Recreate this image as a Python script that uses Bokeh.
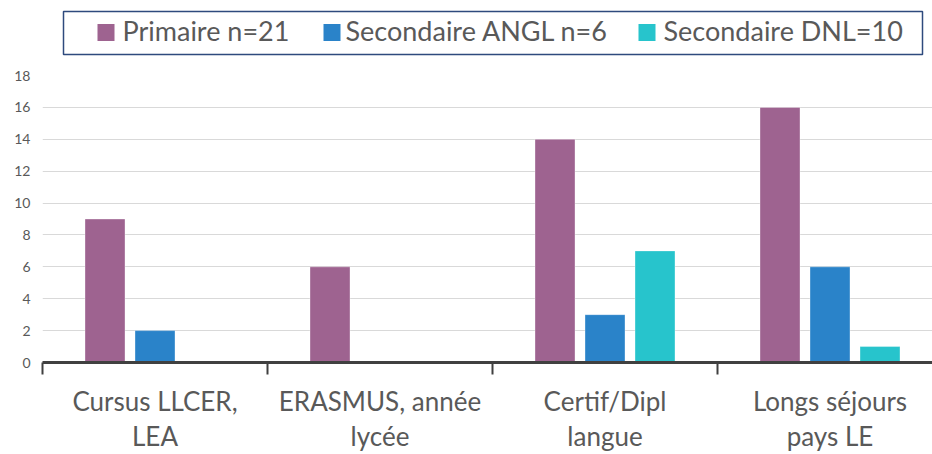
from bokeh.plotting import figure
from bokeh.models import ColumnDataSource, FixedTicker, Range1d
from bokeh.layouts import column
from bokeh.core.properties import value
from bokeh.embed import file_html
from bokeh.resources import INLINE

categories = ["Cursus LLCER,\nLEA", "ERASMUS, année\nlycée", "Certif/Dipl\nlangue", "Longs séjours\npays LE"]
series_names = ["Primaire n=21", "Secondaire ANGL n=6", "Secondaire DNL=10"]
primaire = [9, 6, 14, 16]
sec_angl = [2, 0, 3, 6]
sec_dnl = [0, 0, 7, 1]
colors = ["#9E6390", "#2A83C9", "#27C4CC"]
y_ticks = [0, 2, 4, 6, 8, 10, 12, 14, 16, 18]

FONT = "Lato"
TEXT_COLOR = "#595959"

W = 932
LEG_H = 65
LEFT = 42

# ---------------- legend strip (pixel-unit ranges, layout only) ----------------
leg_fig = figure(width=W, height=LEG_H, output_backend="svg", toolbar_location=None,
                 x_range=Range1d(LEFT, W), y_range=Range1d(LEG_H, 0),
                 min_border_left=LEFT, min_border_right=0, min_border_top=0, min_border_bottom=0,
                 x_axis_location=None, y_axis_location=None)
leg_fig.outline_line_color = None
leg_fig.grid.visible = False

box = dict(left=[63], right=[922], top=[11], bottom=[54])
square_x = [105.5, 331.5, 646.5]
text_x = [122, 345, 663]
item_y = 32
baseline_y = 30

leg_fig.quad(source=ColumnDataSource(box), left="left", right="right", top="top", bottom="bottom",
             fill_color=None, line_color="#2E4A7D", line_width=1.5)
leg_fig.rect(x=square_x, y=[item_y] * 3, width=17, height=17, width_units="screen",
             height_units="screen", fill_color=colors, line_color=None)
leg_fig.text(x=text_x, y=[baseline_y] * 3, text=series_names,
             text_font=value(FONT), text_font_size="27px", text_color=TEXT_COLOR,
             text_baseline="alphabetic", text_align="left")

# ---------------- main chart ----------------
p = figure(width=W, height=454 - LEG_H, output_backend="svg", toolbar_location=None,
           x_range=(0, (W - LEFT) / 225), y_range=(0, 18),
           min_border_left=LEFT, min_border_right=0, min_border_top=10, min_border_bottom=0)
p.outline_line_color = None
p.background_fill_color = "white"

centers = [i + 0.5 for i in range(len(categories))]
offsets = [-50 / 225, 0, 50 / 225]
bar_w = 40 / 225
for vals, off, col in zip([primaire, sec_angl, sec_dnl], offsets, colors):
    src = ColumnDataSource(dict(x=[c + off for c in centers], top=vals))
    p.vbar(x="x", top="top", bottom=0, width=bar_w, source=src,
           fill_color=col, line_color="#ffffff", line_alpha=0.35, line_width=1)

# y axis
p.yaxis.ticker = FixedTicker(ticks=y_ticks)
p.yaxis.axis_line_color = None
p.yaxis.major_tick_line_color = None
p.yaxis.minor_tick_line_color = None
p.yaxis.major_label_text_font = FONT
p.yaxis.major_label_text_font_size = "14px"
p.yaxis.major_label_text_color = TEXT_COLOR
p.yaxis.major_label_standoff = 6
p.ygrid.grid_line_color = "#D9D9D9"
p.ygrid.grid_line_width = 1
p.xgrid.grid_line_color = None

# x axis: labels at category centres, tick marks at category boundaries
p.xaxis.ticker = FixedTicker(ticks=centers, minor_ticks=[0, 1, 2, 3, 4])
p.xaxis.major_label_overrides = {c: lab for c, lab in zip(centers, categories)}
p.xaxis.major_tick_line_color = None
p.xaxis.major_tick_out = 0
p.xaxis.major_tick_in = 0
p.xaxis.minor_tick_out = 12
p.xaxis.minor_tick_in = 0
p.xaxis.minor_tick_line_color = "#404040"
p.xaxis.minor_tick_line_width = 2
p.xaxis.axis_line_color = "#404040"
p.xaxis.axis_line_width = 3
p.xaxis.major_label_text_font = FONT
p.xaxis.major_label_text_font_size = "26px"
p.xaxis.major_label_text_color = TEXT_COLOR
p.xaxis.major_label_text_line_height = 1.1
p.xaxis.major_label_standoff = 10

layout = column(leg_fig, p, spacing=0)
open("out.html", "w").write(file_html(layout, INLINE))
